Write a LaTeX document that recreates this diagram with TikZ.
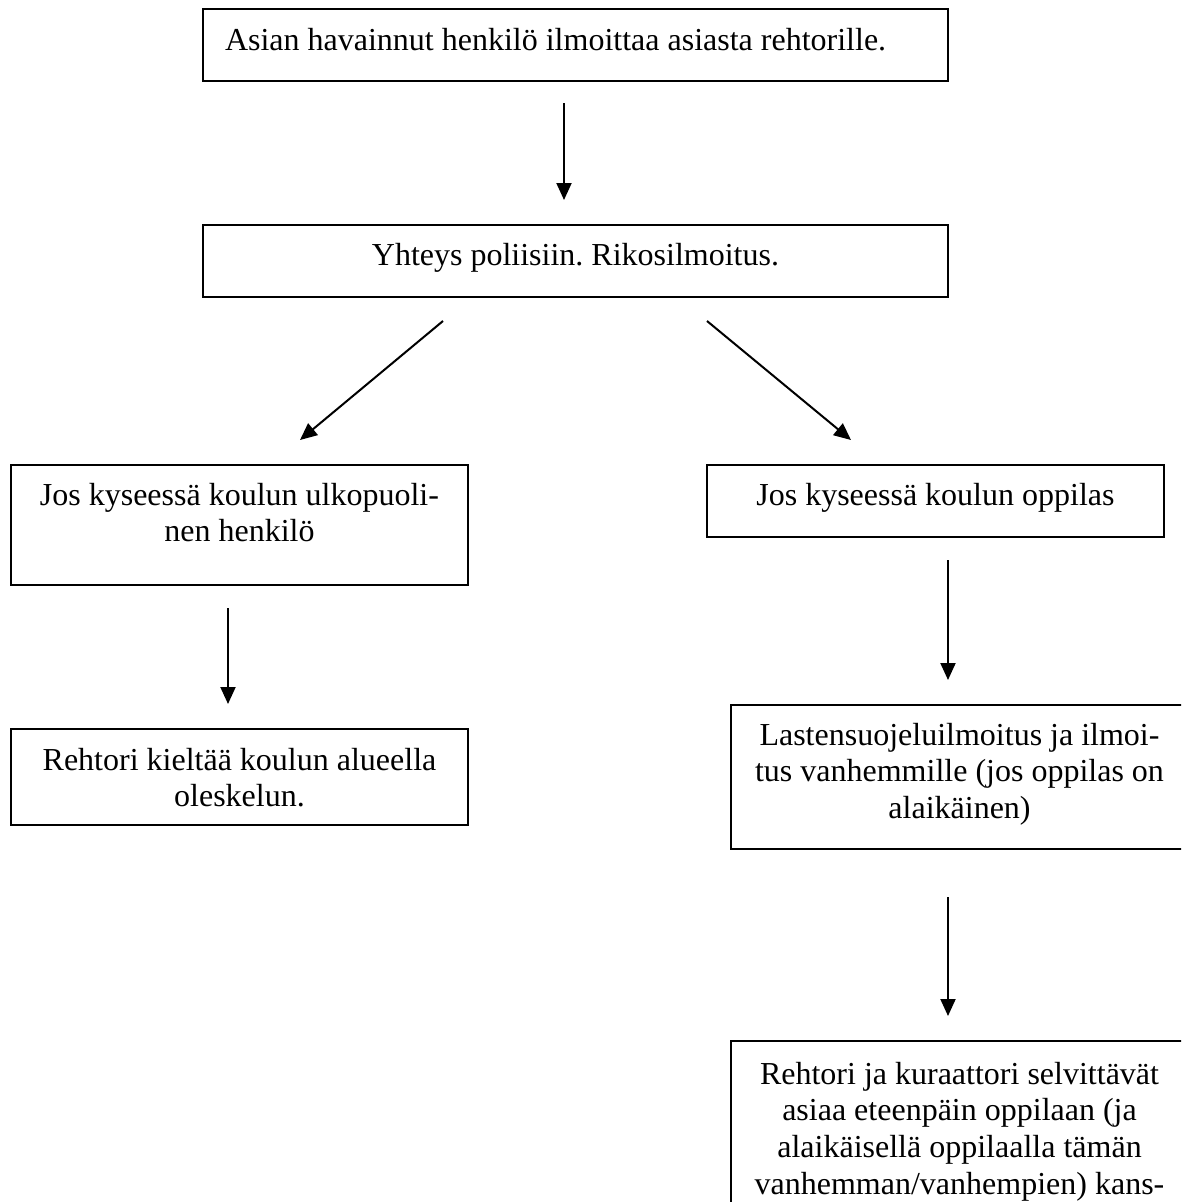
\documentclass[tikz,border=0pt]{standalone}
\usepackage{fontspec}
\setmainfont{Liberation Serif}
\usetikzlibrary{arrows.meta}
\frenchspacing
\newcommand\flowtxt[4]{\parbox[c][#2][t]{#1}{\centering\rule{0pt}{#3}#4}}
\newcommand\flowtxtleft[4]{\parbox[c][#2][t]{#1}{\raggedright\rule{0pt}{#3}\hspace*{22pt}#4}}
\tikzset{
  flow/.style={draw=black, line width=2pt, inner sep=0pt, outer sep=0pt, anchor=north west,
    font=\fontsize{32pt}{36.8pt}\selectfont},
  flowarrow/.style={line width=2pt, -{Triangle[width=15pt,length=17pt]}}
}
\begin{document}
\begin{tikzpicture}[x=1pt,y=-1pt]
\useasboundingbox (0,0) rectangle (1181,1202);
\fill[white] (0,0) rectangle (1181,1202);
\clip (0,0) rectangle (1181,1202);

\node[flow] (b1) at (203,9) {\flowtxtleft{745pt}{72pt}{41pt}{Asian havainnut henkilö ilmoittaa asiasta rehtorille.}};
\node[flow] (b2) at (203,225) {\flowtxt{745pt}{72pt}{40pt}{Yhteys poliisiin. Rikosilmoitus.}};
\node[flow] (b3) at (11,465) {\flowtxt{457pt}{120pt}{40pt}{Jos kyseessä koulun ulkopuoli-\\nen henkilö}};
\node[flow] (b4) at (707,465) {\flowtxt{457pt}{72pt}{40pt}{Jos kyseessä koulun oppilas}};
\node[flow] (b5) at (11,729) {\flowtxt{457pt}{96pt}{41pt}{Rehtori kieltää koulun alueella\\oleskelun.}};
\node[flow] (b6) at (731,705) {\flowtxt{457pt}{144pt}{40pt}{Lastensuojeluilmoitus ja ilmoi-\\tus vanhemmille (jos oppilas on\\alaikäinen)}};
\node[flow] (b7) at (731,1041) {\flowtxt{457pt}{230pt}{43pt}{Rehtori ja kuraattori selvittävät\\asiaa eteenpäin oppilaan (ja\\alaikäisellä oppilaalla tämän\\vanhemman/vanhempien) kans-}};

\coordinate (a1s) at (564,103);  \coordinate (a1e) at (564,200);
\coordinate (a2s) at (443,321);  \coordinate (a2e) at (300,440);
\coordinate (a3s) at (707,321);  \coordinate (a3e) at (851,440);
\coordinate (a4s) at (228,608);  \coordinate (a4e) at (228,704);
\coordinate (a5s) at (948,560);  \coordinate (a5e) at (948,680);
\coordinate (a6s) at (948,897);  \coordinate (a6e) at (948,1016);

\draw[flowarrow] (a1s) -- (a1e);
\draw[flowarrow] (a2s) -- (a2e);
\draw[flowarrow] (a3s) -- (a3e);
\draw[flowarrow] (a4s) -- (a4e);
\draw[flowarrow] (a5s) -- (a5e);
\draw[flowarrow] (a6s) -- (a6e);
\end{tikzpicture}
\end{document}
